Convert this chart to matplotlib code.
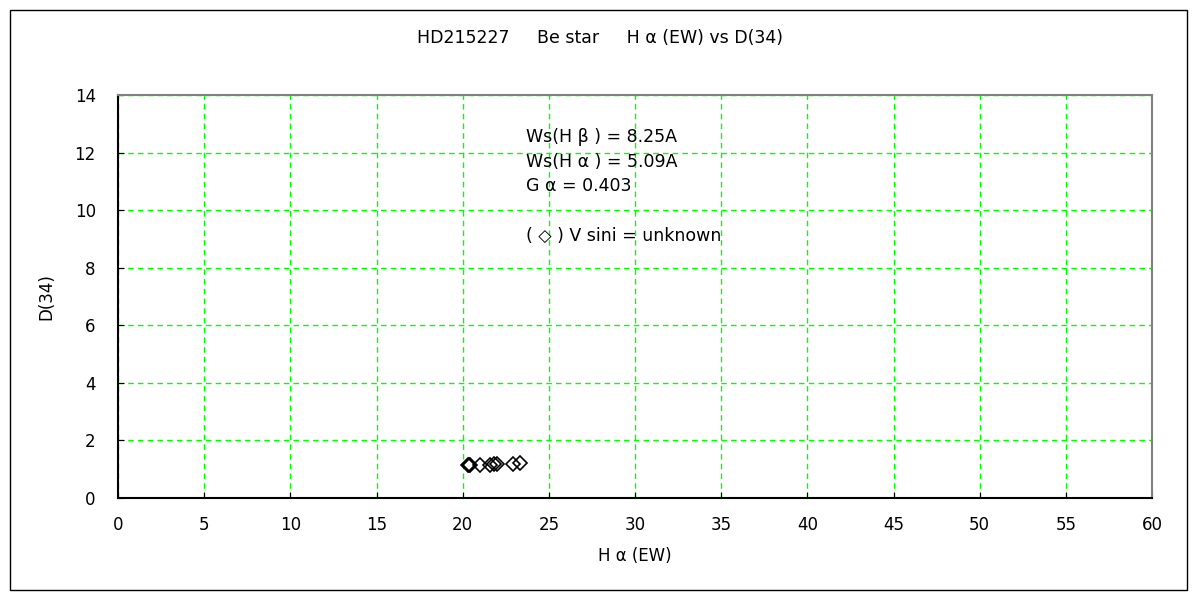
import matplotlib.pyplot as plt
from matplotlib.patches import Rectangle

plt.rcParams['font.family'] = ['DejaVu Sans', 'Noto Sans CJK JP']

# Data
ha_ew = [20.3, 20.35, 20.4, 21.0, 21.6, 21.8, 22.0, 22.9, 23.3]
d34 = [1.15, 1.16, 1.15, 1.15, 1.14, 1.17, 1.19, 1.18, 1.20]

x_ticks = list(range(0, 61, 5))
y_ticks = list(range(0, 15, 2))

title = "HD215227     Be star     H \u03b1 (EW) vs D(34)"
notes = ["Ws(H \u03b2 ) = 8.25A", "Ws(H \u03b1 ) = 5.09A", "G \u03b1 = 0.403"]
note_sini = "( \u25c7 ) V sini = unknown"

fig = plt.figure(figsize=(12, 6), dpi=100)
fig.patches.append(Rectangle((10 / 1200, 10 / 600), 1177 / 1200, 580 / 600,
                             transform=fig.transFigure, fill=False,
                             edgecolor="black", linewidth=1))

ax = fig.add_axes([118 / 1200, 102 / 600, 1034 / 1200, 403 / 600])
ax.plot(ha_ew, d34, linestyle="none", marker="D", markersize=7,
        markerfacecolor="none", markeredgecolor="black", markeredgewidth=1.2)

ax.set_xlim(0, 60)
ax.set_ylim(0, 14)
ax.set_xticks(x_ticks)
ax.set_yticks(y_ticks)
ax.grid(True, color="#00ff00", linestyle=(0, (4, 3)), linewidth=1)
ax.tick_params(direction="in", length=4, labelsize=12, colors="black")
ax.tick_params(axis="y", pad=16)
ax.tick_params(axis="x", pad=13)

ax.spines["top"].set_color("#808080")
ax.spines["right"].set_color("#808080")
ax.spines["left"].set_color("black")
ax.spines["bottom"].set_color("black")
for s in ax.spines.values():
    s.set_linewidth(1.5)

ax.set_xlabel("H \u03b1 (EW)", fontsize=12, labelpad=9)
ax.set_ylabel("D(34)", fontsize=12, labelpad=14)
fig.text(0.5, 1 - 38 / 600, title, ha="center", va="center", fontsize=12.5)

ys = [12.53, 11.66, 10.83]
for t, yv in zip(notes, ys):
    ax.text(23.7, yv, t, fontsize=12.5, va="center", ha="left")
ax.text(23.7, 9.1, note_sini, fontsize=12.5, va="center", ha="left")

fig.savefig("out.png", dpi=100)
